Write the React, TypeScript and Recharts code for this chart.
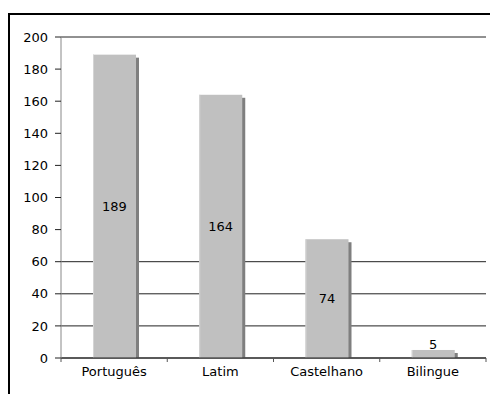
import React from 'react';
import {
  BarChart,
  Bar,
  XAxis,
  YAxis,
  CartesianGrid,
  LabelList,
} from 'recharts';

const categories = ['Português', 'Latim', 'Castelhano', 'Bilingue'];
const counts = [189, 164, 74, 5];
const yTicks = [0, 20, 40, 60, 80, 100, 120, 140, 160, 180, 200];
const gridValues = [0, 20, 40, 60, 200];

const data = categories.map((name, i) => ({ name, value: counts[i] }));

const CHART_W = 480;
const CHART_H = 379;
const MARGIN = { top: 22, right: 4, bottom: 6, left: 0 };
const Y_AXIS_W = 51;
const BAND = (CHART_W - MARGIN.left - MARGIN.right - Y_AXIS_W) / categories.length;
const FONT = '"DejaVu Sans", Verdana, sans-serif';
const FONT_SIZE = 13;

// bar with a dark drop shadow on its right side
const ShadowBar = (props: any) => {
  const { x, y, width, height } = props;
  if (!height || height <= 0) return null;
  return (
    <g>
      <rect x={x + 3} y={y + 3} width={width} height={Math.max(height - 3, 0)} fill="#7f7f7f" />
      <rect x={x} y={y} width={width} height={height} fill="#c0c0c0" />
      <rect x={x} y={y} width={1} height={height} fill="#d4d4d4" />
    </g>
  );
};

const ValueLabel = (props: any) => {
  const { x, y, width, height, value } = props;
  const inside = height > 20;
  return (
    <text
      x={x + width / 2}
      y={inside ? y + height / 2 : y - 1}
      textAnchor="middle"
      dominantBaseline={inside ? 'central' : 'auto'}
      fontFamily={FONT}
      fontSize={FONT_SIZE}
      fill="#000"
    >
      {value}
    </text>
  );
};

// category label, with tick marks on the band edges
const CategoryTick = (props: any) => {
  const { x, y, payload, index } = props;
  const left = x - BAND / 2;
  return (
    <g>
      <line x1={left} y1={y - 8} x2={left} y2={y - 4} stroke="#555" />
      {index === categories.length - 1 && (
        <line x1={x + BAND / 2} y1={y - 8} x2={x + BAND / 2} y2={y - 4} stroke="#555" />
      )}
      <text x={x} y={y + 10} textAnchor="middle" fontFamily={FONT} fontSize={FONT_SIZE} fill="#000">
        {payload.value}
      </text>
    </g>
  );
};

const App: React.FC = () => {
  return (
    <div
      style={{
        position: 'fixed',
        left: 8,
        top: 13,
        width: 482,
        height: 381,
        borderTop: '2px solid #000',
        borderLeft: '2px solid #000',
        boxSizing: 'border-box',
        background: '#fff',
        overflow: 'hidden',
      }}
    >
      <BarChart width={CHART_W} height={CHART_H} data={data} margin={MARGIN} barCategoryGap="30%">
        <CartesianGrid vertical={false} horizontalValues={gridValues} stroke="#222" />
        <XAxis
          dataKey="name"
          axisLine={{ stroke: '#222' }}
          tickLine={false}
          tick={<CategoryTick />}
          height={30}
          interval={0}
        />
        <YAxis
          domain={[0, 200]}
          ticks={yTicks}
          width={Y_AXIS_W}
          tickSize={6}
          tickMargin={7}
          axisLine={{ stroke: '#888' }}
          tickLine={{ stroke: '#222' }}
          tick={{ fontFamily: FONT, fontSize: FONT_SIZE, fill: '#000' }}
          interval={0}
        />
        <Bar dataKey="value" barSize={43} shape={<ShadowBar />} isAnimationActive={false}>
          <LabelList dataKey="value" content={<ValueLabel />} />
        </Bar>
      </BarChart>
    </div>
  );
};

export default App;
